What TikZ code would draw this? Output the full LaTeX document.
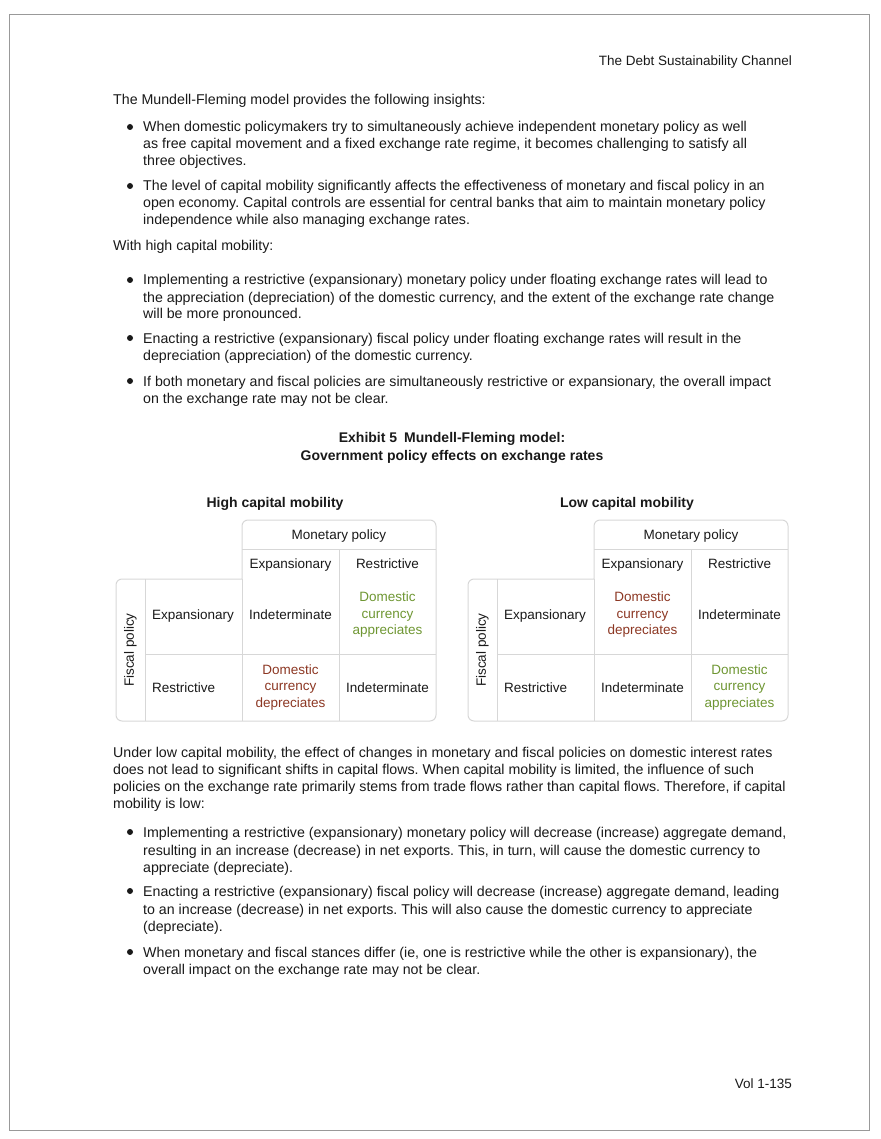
\documentclass[tikz,border=0pt]{standalone}
\usepackage{fontspec}
\setmainfont{Liberation Sans}
\definecolor{txt}{RGB}{25,25,25}
\definecolor{grn}{RGB}{110,150,50}
\definecolor{brn}{RGB}{140,55,35}
\definecolor{gline}{RGB}{215,215,215}
\begin{document}
\frenchspacing
\begin{tikzpicture}[x=1pt,y=-1pt,
  every node/.style={font=\fontsize{14.2}{15}\selectfont,text=txt,inner sep=0pt},
  L/.style={anchor=base west},
  T/.style={font=\fontsize{13.5}{16.5}\selectfont},
  cell/.style={align=center,font=\fontsize{13.5}{16.5}\selectfont},
  tline/.style={draw=gline,line width=1pt}]
\useasboundingbox (0,0) rectangle (880,1139);
\draw[color=gray!80,line width=0.8pt] (9,14) rectangle (869,1130);
\newcommand{\tx}[3]{\node[L] at (#1,#2+5) {#3};}
\newcommand{\bu}[2]{\fill[txt] (#1,#2) circle (3);}
\node[anchor=base east,font=\fontsize{13.5}{15}\selectfont] (hdr) at (792,66) {The Debt Sustainability Channel};
\tx{113}{100}{The Mundell-Fleming model provides the following insights:}
\bu{130}{127}
\tx{143}{127}{When domestic policymakers try to simultaneously achieve independent monetary policy as well}
\tx{143}{144}{as free capital movement and a fixed exchange rate regime, it becomes challenging to satisfy all}
\tx{143}{161}{three objectives.}
\bu{130}{186}
\tx{143}{186}{The level of capital mobility significantly affects the effectiveness of monetary and fiscal policy in an}
\tx{143}{203}{open economy. Capital controls are essential for central banks that aim to maintain monetary policy}
\tx{143}{220}{independence while also managing exchange rates.}
\tx{113}{246}{With high capital mobility:}
\bu{130}{280}
\tx{143}{280}{Implementing a restrictive (expansionary) monetary policy under floating exchange rates will lead to}
\tx{143}{297}{the appreciation (depreciation) of the domestic currency, and the extent of the exchange rate change}
\tx{143}{313}{will be more pronounced.}
\bu{130}{338}
\tx{143}{338}{Enacting a restrictive (expansionary) fiscal policy under floating exchange rates will result in the}
\tx{143}{355}{depreciation (appreciation) of the domestic currency.}
\bu{130}{381}
\tx{143}{381}{If both monetary and fiscal policies are simultaneously restrictive or expansionary, the overall impact}
\tx{143}{398}{on the exchange rate may not be clear.}
\node[font=\bfseries\fontsize{14}{15}\selectfont] (t1) at (452,439) {Exhibit 5\enspace Mundell-Fleming model:};
\node[font=\bfseries\fontsize{14}{15}\selectfont] (t2) at (452,457) {Government policy effects on exchange rates};
\node[font=\bfseries\fontsize{14}{15}\selectfont] (hc) at (275,504) {High capital mobility};
\node[font=\bfseries\fontsize{14}{15}\selectfont] (lc) at (627,504) {Low capital mobility};
\foreach \o in {0,352}{
\begin{scope}[xshift=\o]
\draw[tline,rounded corners=6pt] (242,579) -- (242,520) -- (436,520) -- (436,721) -- (116,721) -- (116,579) -- (242,579);
\draw[tline] (242,549) -- (436,549);
\draw[tline] (339,549) -- (339,721);
\draw[tline] (242,579) -- (242,721);
\draw[tline] (145,579) -- (145,721);
\draw[tline] (145,654) -- (436,654);
\node[T,anchor=base] (mp) at (339,539) {Monetary policy};
\node[T,anchor=base] (ce) at (290.5,568.5) {Expansionary};
\node[T,anchor=base] (cr) at (387.5,568.5) {Restrictive};
\node[T,rotate=90] (fp) at (130.5,650) {Fiscal policy};
\node[T,anchor=base west] (re) at (152,619.5) {Expansionary};
\node[T,anchor=base west] (rr) at (152,692) {Restrictive};
\end{scope}}
\node[cell] (a11) at (290.5,615) {Indeterminate};
\node[cell,text=grn] (a12) at (387.5,615) {Domestic\\currency\\appreciates};
\node[cell,text=brn] (a21) at (290.5,687.5) {Domestic\\currency\\depreciates};
\node[cell] (a22) at (387.5,687.5) {Indeterminate};
\node[cell,text=brn] (b11) at (642.5,615) {Domestic\\currency\\depreciates};
\node[cell] (b12) at (739.5,615) {Indeterminate};
\node[cell] (b21) at (642.5,687.5) {Indeterminate};
\node[cell,text=grn] (b22) at (739.5,687.5) {Domestic\\currency\\appreciates};
\tx{113}{752}{Under low capital mobility, the effect of changes in monetary and fiscal policies on domestic interest rates}
\tx{113}{769}{does not lead to significant shifts in capital flows. When capital mobility is limited, the influence of such}
\tx{113}{786}{policies on the exchange rate primarily stems from trade flows rather than capital flows. Therefore, if capital}
\tx{113}{803}{mobility is low:}
\bu{130}{832}
\tx{143}{832}{Implementing a restrictive (expansionary) monetary policy will decrease (increase) aggregate demand,}
\tx{143}{850}{resulting in an increase (decrease) in net exports. This, in turn, will cause the domestic currency to}
\tx{143}{867}{appreciate (depreciate).}
\bu{130}{891}
\tx{143}{891}{Enacting a restrictive (expansionary) fiscal policy will decrease (increase) aggregate demand, leading}
\tx{143}{909}{to an increase (decrease) in net exports. This will also cause the domestic currency to appreciate}
\tx{143}{926}{(depreciate).}
\bu{130}{952}
\tx{143}{952}{When monetary and fiscal stances differ (ie, one is restrictive while the other is expansionary), the}
\tx{143}{969}{overall impact on the exchange rate may not be clear.}
\node[anchor=base east,font=\fontsize{13.5}{15}\selectfont] (vol) at (792,1088) {Vol 1-135};
\end{tikzpicture}
\end{document}
